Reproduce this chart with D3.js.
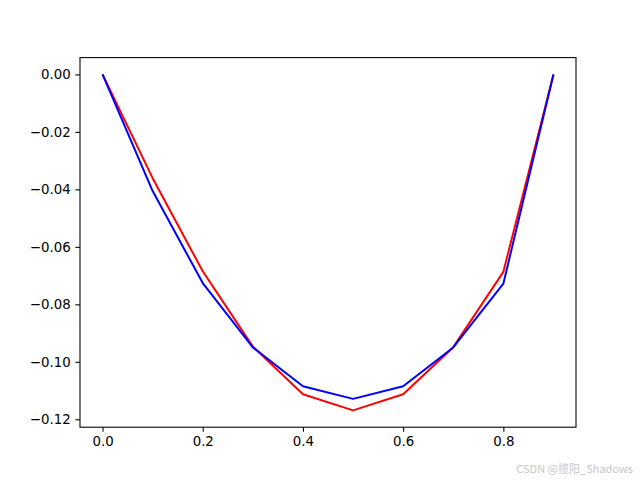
<!DOCTYPE html>
<html>
<head>
<meta charset="utf-8">
<script src="https://cdn.jsdelivr.net/npm/d3@7"></script>
<style>
  html, body { margin: 0; padding: 0; background: #fff; }
  svg { display: block; }
</style>
</head>
<body>
<script>
// Data
const xValues = [0.0, 0.1, 0.2, 0.3, 0.4, 0.5, 0.6, 0.7, 0.8, 0.9];
const redValues = [0.0, -0.0361, -0.0685, -0.0947, -0.1113, -0.1169, -0.1113, -0.0949, -0.0687, 0.0];
const blueValues = [0.0, -0.0406, -0.0726, -0.0950, -0.1085, -0.1129, -0.1085, -0.0950, -0.0728, 0.0];
const xTicks = [0.0, 0.2, 0.4, 0.6, 0.8];
const yTicks = [0.00, -0.02, -0.04, -0.06, -0.08, -0.10, -0.12];
const watermark = "CSDN @揽阳_Shadows";

const W = 640, H = 480;
const plotLeft = 80, plotRight = 576, plotTop = 57.6, plotBottom = 427.2;

const svg = d3.select("body").append("svg")
  .attr("width", W).attr("height", H)
  .style("font-family", "'DejaVu Sans', sans-serif");

svg.append("rect").attr("width", W).attr("height", H).attr("fill", "#fff");

// matplotlib-style 5% margins
const xmin = d3.min(xValues), xmax = d3.max(xValues);
const allY = redValues.concat(blueValues);
const ymin = d3.min(allY), ymax = d3.max(allY);
const xm = (xmax - xmin) * 0.05, ym = (ymax - ymin) * 0.05;

const x = d3.scaleLinear().domain([xmin - xm, xmax + xm]).range([plotLeft, plotRight]);
const y = d3.scaleLinear().domain([ymin - ym, ymax + ym]).range([plotBottom, plotTop]);

const line = (vals) => d3.line()
  .x((d, i) => x(xValues[i]))
  .y(d => y(d))(vals);

svg.append("path").attr("d", line(redValues))
  .attr("fill", "none").attr("stroke", "#ff0000").attr("stroke-width", 2)
  .attr("stroke-linejoin", "round").attr("stroke-linecap", "butt");
svg.append("path").attr("d", line(blueValues))
  .attr("fill", "none").attr("stroke", "#0000ff").attr("stroke-width", 2)
  .attr("stroke-linejoin", "round").attr("stroke-linecap", "butt");

const fmtX = d3.format(".1f");
const fmtY = v => d3.format(".2f")(v).replace("-", "\u2212");

const xAxis = d3.axisBottom(x).tickValues(xTicks).tickFormat(fmtX)
  .tickSizeInner(4.67).tickSizeOuter(0).tickPadding(4.67);
const yAxis = d3.axisLeft(y).tickValues(yTicks).tickFormat(fmtY)
  .tickSizeInner(4.67).tickSizeOuter(0).tickPadding(4.67);

const gx = svg.append("g").attr("transform", `translate(0,${plotBottom})`).call(xAxis);
const gy = svg.append("g").attr("transform", `translate(${plotLeft},0)`).call(yAxis);
[gx, gy].forEach(g => {
  g.select(".domain").remove();
  g.selectAll(".tick line").attr("stroke", "#000").attr("stroke-width", 1.07);
  g.selectAll(".tick text").attr("fill", "#000")
    .style("font-size", "13.33px").style("font-family", "'DejaVu Sans', sans-serif");
});

// Frame
svg.append("rect").attr("x", plotLeft).attr("y", plotTop)
  .attr("width", plotRight - plotLeft).attr("height", plotBottom - plotTop)
  .attr("fill", "none").attr("stroke", "#000").attr("stroke-width", 1.07);

// Watermark
svg.append("text").attr("x", 633).attr("y", 472.5)
  .attr("text-anchor", "end")
  .attr("fill", "#c8c8c8")
  .style("font-size", "11px")
  .style("font-family", "'Noto Sans CJK SC', 'DejaVu Sans', sans-serif")
  .text(watermark);
</script>
</body>
</html>
